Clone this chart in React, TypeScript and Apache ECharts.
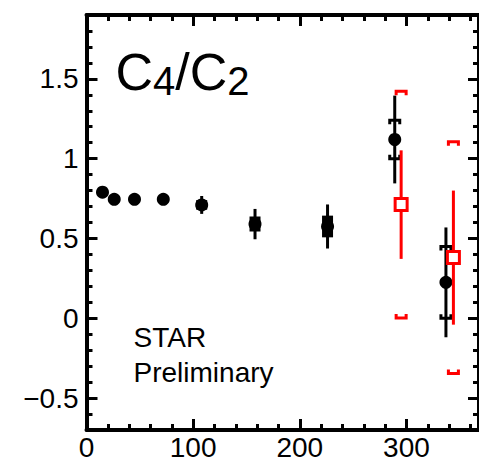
import React, { useEffect, useRef } from 'react';
import * as echarts from 'echarts';

// ---- data ----
const blackNpart = [15, 26, 45, 72, 108, 158, 226, 289, 337];
const blackRatio = [0.79, 0.745, 0.745, 0.745, 0.71, 0.59, 0.575, 1.12, 0.225];
const blackStatErr = [0.01, 0.01, 0.01, 0.01, 0.056, 0.095, 0.138, 0.275, 0.344];
const blackSysErr = [0, 0, 0, 0, 0.03, 0.047, 0.068, 0.12, 0.225];
const blackSysKind = ['box', 'box', 'box', 'box', 'box', 'box', 'box', 'bracket', 'bracket'];

const redNpart = [295, 344];
const redRatio = [0.712, 0.38];
const redStatErr = [0.34, 0.42];
const redSysErr = [0.71, 0.726];

const xRange = [0, 368];
const yRange = [-0.7, 1.9];

const FONT = '"Liberation Sans", Arial, Helvetica, sans-serif';

function makeErrRender(color: string, boxW: number, brW: number, leg: number) {
  return (params: any, api: any) => {
    const x = api.value(0);
    const y = api.value(1);
    const st = api.value(2);
    const sy = api.value(3);
    const kind = api.value(4);
    const top = api.coord([x, y + st]);
    const bot = api.coord([x, y - st]);
    const children: any[] = [];
    children.push({
      type: 'line',
      shape: { x1: top[0], y1: top[1], x2: bot[0], y2: bot[1] },
      style: { stroke: color, lineWidth: 3 },
    });
    if (sy > 0) {
      const t = api.coord([x, y + sy]);
      const b = api.coord([x, y - sy]);
      const cx = t[0];
      if (kind === 0) {
        children.push({
          type: 'rect',
          shape: { x: cx - boxW / 2, y: t[1], width: boxW, height: b[1] - t[1] },
          style: { fill: color },
        });
      } else {
        children.push({
          type: 'polyline',
          shape: {
            points: [
              [cx - brW / 2, t[1] + leg],
              [cx - brW / 2, t[1]],
              [cx + brW / 2, t[1]],
              [cx + brW / 2, t[1] + leg],
            ],
          },
          style: { stroke: color, lineWidth: 3, fill: null },
        });
        children.push({
          type: 'polyline',
          shape: {
            points: [
              [cx - brW / 2, b[1] - leg],
              [cx - brW / 2, b[1]],
              [cx + brW / 2, b[1]],
              [cx + brW / 2, b[1] - leg],
            ],
          },
          style: { stroke: color, lineWidth: 3, fill: null },
        });
      }
    }
    return { type: 'group', children };
  };
}

function axisCommon(showLabel: boolean, extra: any = {}) {
  return {
    axisLine: { show: true, onZero: false, lineStyle: { color: '#000', width: 4 } },
    axisTick: { show: true, inside: true, length: 11, lineStyle: { color: '#000', width: 3 } },
    minorTick: { show: true, splitNumber: 5, length: 6, lineStyle: { color: '#000', width: 3 } },
    splitLine: { show: false },
    minorSplitLine: { show: false },
    axisLabel: showLabel
      ? { show: true, fontSize: 28, fontFamily: FONT, color: '#000', ...extra }
      : { show: false },
  };
}

export default function App() {
  const ref = useRef<HTMLDivElement>(null);
  useEffect(() => {
    if (!ref.current) return;
    const chart = echarts.init(ref.current, undefined, { renderer: 'svg' });

    const blackData = blackNpart.map((x, i) => [
      x,
      blackRatio[i],
      blackStatErr[i],
      blackSysErr[i],
      blackSysKind[i] === 'box' ? 0 : 1,
    ]);
    const redData = redNpart.map((x, i) => [x, redRatio[i], redStatErr[i], redSysErr[i], 1]);

    const option: any = {
      animation: false,
      backgroundColor: '#fff',
      textStyle: { fontFamily: FONT },
      grid: { left: 86.5, right: -6.8, top: 15, bottom: 39, containLabel: false },
      xAxis: [
        {
          type: 'value',
          min: xRange[0],
          max: xRange[1],
          interval: 100,
          position: 'bottom',
          ...axisCommon(true, { margin: 3, showMaxLabel: false }),
        },
        {
          type: 'value',
          min: xRange[0],
          max: xRange[1],
          interval: 100,
          position: 'top',
          ...axisCommon(false),
        },
      ],
      yAxis: [
        {
          type: 'value',
          min: yRange[0],
          max: yRange[1],
          splitNumber: 5,
          position: 'left',
          ...axisCommon(true, {
            margin: 8,
            showMinLabel: false,
            showMaxLabel: false,
            formatter: (v: number) => String(v).replace('-', '\u2212'),
          }),
        },
        {
          type: 'value',
          min: yRange[0],
          max: yRange[1],
          splitNumber: 5,
          position: 'right',
          ...axisCommon(false),
        },
      ],
      series: [
        {
          type: 'custom',
          name: 'blackErr',
          xAxisIndex: 0,
          yAxisIndex: 0,
          renderItem: makeErrRender('#000', 11, 10, 4),
          data: blackData,
          encode: { x: 0, y: 1 },
          z: 3,
        },
        {
          type: 'scatter',
          name: 'black',
          xAxisIndex: 0,
          yAxisIndex: 0,
          symbol: 'circle',
          symbolSize: 13,
          itemStyle: { color: '#000', opacity: 1 },
          data: blackNpart.map((x, i) => [x, blackRatio[i]]),
          z: 4,
        },
        {
          type: 'custom',
          name: 'redErr',
          xAxisIndex: 0,
          yAxisIndex: 0,
          renderItem: makeErrRender('#ff0000', 11, 10, 4),
          data: redData,
          encode: { x: 0, y: 1 },
          z: 5,
        },
        {
          type: 'scatter',
          name: 'red',
          xAxisIndex: 0,
          yAxisIndex: 0,
          symbol: 'rect',
          symbolSize: 12,
          itemStyle: { color: '#fff', borderColor: '#ff0000', borderWidth: 3, opacity: 1 },
          data: redNpart.map((x, i) => [x, redRatio[i]]),
          z: 6,
        },
      ],
      graphic: [
        { type: 'text', x: 115.5, y: 72, style: { text: 'C', fontSize: 52, fontFamily: FONT, fill: '#000', align: 'left', verticalAlign: 'middle' } },
        { type: 'text', x: 153, y: 81, style: { text: '4', fontSize: 40, fontFamily: FONT, fill: '#000', align: 'left', verticalAlign: 'middle' } },
        { type: 'text', x: 175.2, y: 72, style: { text: '/', fontSize: 52, fontFamily: FONT, fill: '#000', align: 'left', verticalAlign: 'middle' } },
        { type: 'text', x: 189.7, y: 72, style: { text: 'C', fontSize: 52, fontFamily: FONT, fill: '#000', align: 'left', verticalAlign: 'middle' } },
        { type: 'text', x: 227.2, y: 81, style: { text: '2', fontSize: 40, fontFamily: FONT, fill: '#000', align: 'left', verticalAlign: 'middle' } },
        { type: 'text', x: 133.5, y: 337.3, style: { text: 'STAR', fontSize: 28, fontFamily: FONT, fill: '#000', align: 'left', verticalAlign: 'middle' } },
        { type: 'text', x: 133.5, y: 372.3, style: { text: 'Preliminary', fontSize: 28, fontFamily: FONT, fill: '#000', align: 'left', verticalAlign: 'middle' } },
      ],
    };
    chart.setOption(option);
    return () => chart.dispose();
  }, []);

  return (
    <div
      ref={ref}
      style={{ position: 'fixed', left: 0, top: 0, width: 479, height: 469, overflow: 'hidden', background: '#fff' }}
    />
  );
}
